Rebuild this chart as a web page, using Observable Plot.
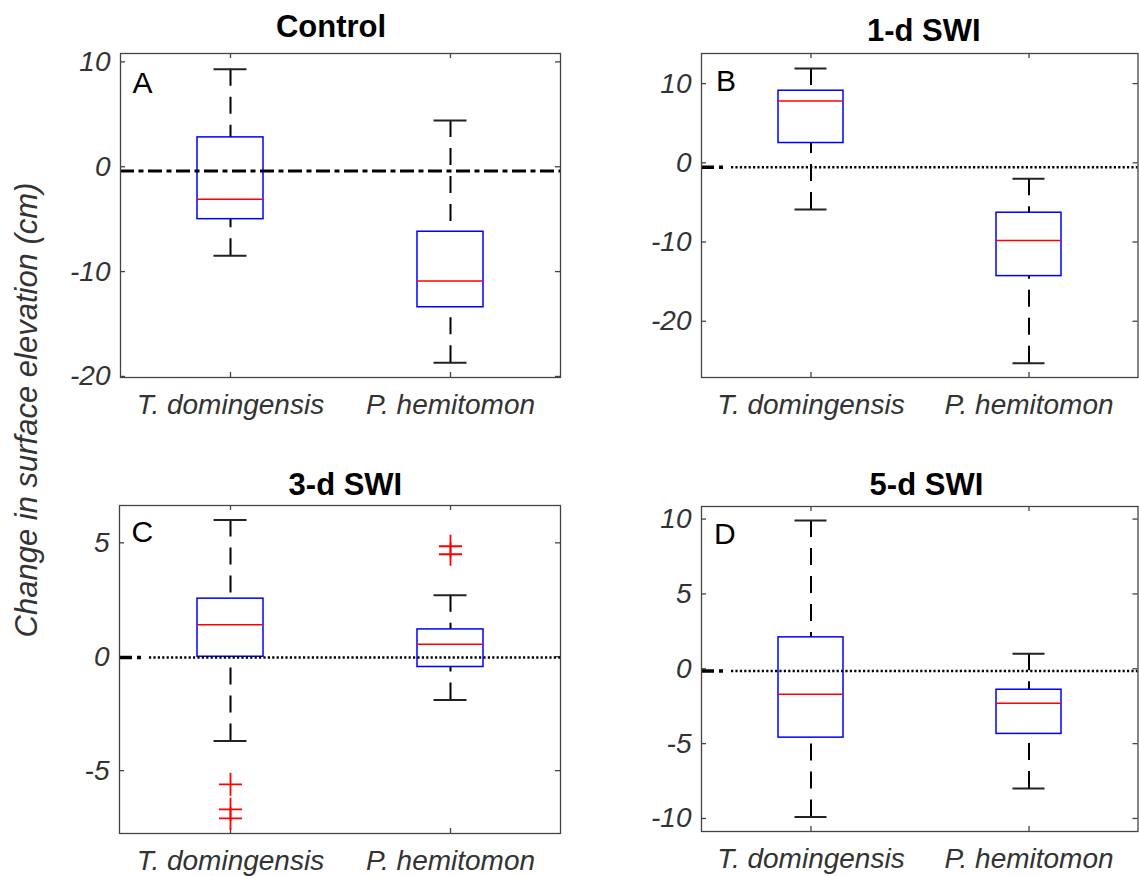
<!DOCTYPE html>
<html><head><meta charset="utf-8">
<script src="https://cdn.jsdelivr.net/npm/d3@7"></script>
<script src="https://cdn.jsdelivr.net/npm/@observablehq/plot@0.6"></script>
<style>
body{margin:0;background:#fff;}
#root{position:relative;width:1139px;height:876px;font-family:"Liberation Sans",Arial,sans-serif;overflow:hidden;}
.panel{position:absolute;}
.panel svg{overflow:visible;}
#ylabel{position:absolute;left:27px;top:410px;transform:translate(-50%,-50%) rotate(-90deg);white-space:nowrap;font-style:italic;font-size:31px;color:#333;}
</style></head><body><div id="root"><div id="ylabel">Change in surface elevation (cm)</div></div>
<script>
// ---- data ----
const species = ["T. domingensis", "P. hemitomon"];
const panelTitles = ["Control", "1-d SWI", "3-d SWI", "5-d SWI"];
const panelLetters = ["A", "B", "C", "D"];
const whiskerLow  = [[-8.5, -18.7], [-5.9, -25.3], [-3.7, -1.9], [-9.9, -8.0]];
const q1          = [[-5.0, -13.4], [2.5, -14.3], [0.0, -0.45], [-4.6, -4.35]];
const median      = [[-3.1, -10.9], [7.8, -9.8], [1.4, 0.55], [-1.7, -2.3]];
const q3          = [[2.8, -6.2], [9.1, -6.3], [2.55, 1.2], [2.1, -1.4]];
const whiskerHigh = [[9.3, 4.4], [11.9, -2.0], [6.0, 2.7], [9.9, 1.0]];
const outliers    = [[[], []], [[], []], [[-5.6, -6.7, -7.1], [4.85, 4.5]], [[], []]];
const refLine     = [-0.4, -0.55, -0.03, -0.15];
const yLimits     = [[-20.1, 10.8], [-27.1, 13.8], [-7.76, 6.64], [-10.87, 10.84]];
const yTickValues = [[-20, -10, 0, 10], [-20, -10, 0, 10], [-5, 0, 5], [-10, -5, 0, 5, 10]];

// ---- layout / style ----
const layout = [
  {left: 0,   top: 0,   width: 570, height: 440, frame: [120, 53, 560, 377],    titleGap: 17,   titleDx: -9.5, letterDx: 12,   letterDy: 39, ref: "dashdot"},
  {left: 570, top: 0,   width: 569, height: 440, frame: [701, 53, 1137.5, 377],  titleGap: 12.5, titleDx: 4,    letterDx: 14.5, letterDy: 37, ref: "dotted"},
  {left: 0,   top: 440, width: 570, height: 436, frame: [119, 505, 560, 833],   titleGap: 11,   titleDx: 5.4,  letterDx: 12,   letterDy: 36, ref: "dotted"},
  {left: 570, top: 440, width: 569, height: 436, frame: [701, 506, 1137.5, 831], titleGap: 11.5, titleDx: 6.7,  letterDx: 12.6, letterDy: 37, ref: "dotted"}
];
const axisColor = "#444";
const dotted = "0,30," + "2.2,2.2,".repeat(150) + "2";

const root = document.getElementById("root");

layout.forEach((L, k) => {
  const fw = L.frame[2] - L.frame[0];
  const fh = L.frame[3] - L.frame[1];
  const rows = species.map((s, i) => ({
    species: s, lo: whiskerLow[k][i], q1: q1[k][i], med: median[k][i], q3: q3[k][i], hi: whiskerHigh[k][i]
  }));
  const outs = species.flatMap((s, i) => outliers[k][i].map(v => ({species: s, value: v})));

  const refMarks = L.ref === "dashdot"
    ? [Plot.ruleY([refLine[k]], {y: d => d, stroke: "black", strokeWidth: 3, strokeDasharray: "14,4.5,5,4.5"})]
    : [
        Plot.ruleY([refLine[k]], {y: d => d, stroke: "black", strokeWidth: 2.4, strokeDasharray: dotted}),
        Plot.ruleY([refLine[k]], {y: d => d, stroke: "black", strokeWidth: 3.5, strokeDasharray: "13,5,4,3000"})
      ];

  const chart = Plot.plot({
    width: L.width,
    height: L.height,
    marginLeft: L.frame[0] - L.left,
    marginTop: L.frame[1] - L.top,
    marginRight: L.left + L.width - L.frame[2],
    marginBottom: L.top + L.height - L.frame[3],
    style: {fontFamily: "Liberation Sans, Arial, sans-serif", fontSize: "28px", fontStyle: "italic", color: "#333", background: "transparent", overflow: "visible"},
    x: {type: "band", domain: species, paddingInner: 0.702, paddingOuter: 0.351, align: 0.5},
    y: {domain: yLimits[k]},
    marks: [
      Plot.axisX({anchor: "bottom", tickSize: 0, tickPadding: 17, label: null}),
      Plot.axisY({anchor: "left", ticks: yTickValues[k], tickFormat: d => String(d), tickSize: 0, tickPadding: 10, label: null}),
      // inward ticks
      Plot.tickY(yTickValues[k], {y: d => d, insetRight: fw - 5, stroke: axisColor, strokeWidth: 1.3}),
      Plot.tickY(yTickValues[k], {y: d => d, insetLeft: fw - 5, stroke: axisColor, strokeWidth: 1.3}),
      Plot.ruleX(species, {x: d => d, insetBottom: fh - 5, stroke: axisColor, strokeWidth: 1.3}),
      Plot.ruleX(species, {x: d => d, insetTop: fh - 5, stroke: axisColor, strokeWidth: 1.3}),
      // whiskers
      Plot.ruleX(rows, {x: "species", y1: "hi", y2: "q3", stroke: "black", strokeWidth: 2, strokeDasharray: "17,11"}),
      Plot.ruleX(rows, {x: "species", y1: "lo", y2: "q1", stroke: "black", strokeWidth: 2, strokeDasharray: "17,11"}),
      Plot.tickY(rows, {x: "species", y: "hi", insetLeft: 16.5, insetRight: 16.5, stroke: "#222", strokeWidth: 2}),
      Plot.tickY(rows, {x: "species", y: "lo", insetLeft: 16.5, insetRight: 16.5, stroke: "#222", strokeWidth: 2}),
      // boxes
      Plot.barY(rows, {x: "species", y1: "q1", y2: "q3", fill: "none", stroke: "#0000ff", strokeWidth: 1.5}),
      Plot.tickY(rows, {x: "species", y: "med", stroke: "#ff0000", strokeWidth: 1.5}),
      // outliers
      Plot.dot(outs, {x: "species", y: "value", symbol: "plus", r: 7.5, stroke: "#ff0000", strokeWidth: 1.8}),
      ...refMarks,
      Plot.frame({stroke: axisColor, strokeWidth: 1.3}),
      // title & letter
      Plot.text([panelTitles[k]], {text: d => d, frameAnchor: "top", dy: -L.titleGap, dx: L.titleDx, lineAnchor: "bottom", fontWeight: "bold", fontStyle: "normal", fontSize: 31, fill: "black"}),
      Plot.text([panelLetters[k]], {text: d => d, frameAnchor: "top-left", dx: L.letterDx, dy: L.letterDy, textAnchor: "start", lineAnchor: "bottom", fontStyle: "normal", fontSize: 30, fill: "black"})
    ]
  });
  const div = document.createElement("div");
  div.className = "panel";
  div.style.left = L.left + "px";
  div.style.top = L.top + "px";
  div.appendChild(chart);
  root.appendChild(div);
});
</script>
</body></html>
